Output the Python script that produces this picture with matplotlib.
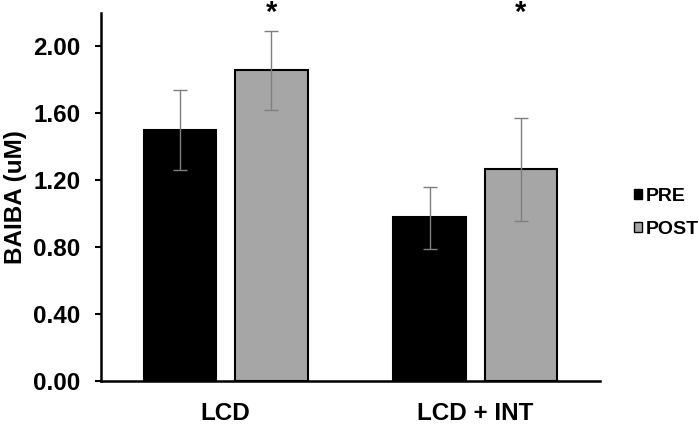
import numpy as np
import matplotlib.pyplot as plt

# BAIBA antes y despues, por grupo
grupos = ["LCD", "LCD + INT"]
pre = [1.50, 0.98]
post = [1.86, 1.265]
pre_err_hi = [0.24, 0.18]
pre_err_lo = [0.24, 0.19]
post_err_hi = [0.235, 0.31]
post_err_lo = [0.24, 0.31]
significativo = [True, True]

plt.rcParams['font.family'] = ['Liberation Sans', 'DejaVu Sans']
plt.rcParams['font.weight'] = 'bold'

fig = plt.figure(figsize=(6.99, 4.24), dpi=100)
ax = fig.add_axes([101 / 699, 1 - 381 / 424, 499 / 699, 368 / 424])

x = np.arange(len(grupos))
ancho = 0.29
desp = 0.183

ax.bar(x - desp, pre, ancho, color="black", edgecolor="black", linewidth=1.5,
       label="PRE", zorder=2)
ax.bar(x + desp, post, ancho, color="#a6a6a6", edgecolor="black", linewidth=1.5,
       label="POST", zorder=2)

ax.errorbar(x - desp, pre, yerr=[pre_err_lo, pre_err_hi], fmt="none",
            ecolor="#7f7f7f", elinewidth=1, capsize=5, capthick=1, zorder=3)
ax.errorbar(x + desp, post, yerr=[post_err_lo, post_err_hi], fmt="none",
            ecolor="#7f7f7f", elinewidth=1, capsize=5, capthick=1, zorder=3)

for i, s in enumerate(significativo):
    if s:
        ax.text(x[i] + desp, 2.2, "*", ha="center", va="center", fontsize=21,
                fontweight="bold", clip_on=False)

ax.set_xlim(-0.5, 1.5)
ax.set_ylim(0, 2.2)
ax.set_yticks(np.arange(0, 2.01, 0.4))
ax.set_yticklabels([f"{v:.2f}" for v in np.arange(0, 2.01, 0.4)])
ax.set_xticks(x)
ax.set_xticklabels(grupos)
ax.tick_params(axis="y", labelsize=17.5, width=1.5, length=4, direction="out", pad=11)
ax.tick_params(axis="x", labelsize=17.5, length=0, pad=15)
ax.set_ylabel("BAIBA (uM)", fontsize=17.5, fontweight="bold", labelpad=4)

for lado in ["top", "right"]:
    ax.spines[lado].set_visible(False)
ax.spines["left"].set_linewidth(1.8)
ax.spines["bottom"].set_linewidth(1.8)

leg = fig.legend(loc="center left", bbox_to_anchor=(634 / 699, 1 - 213 / 424),
                 frameon=False, fontsize=14, handlelength=0.42, handleheight=0.42,
                 handletextpad=0.2, labelspacing=0.85, borderpad=0,
                 borderaxespad=0)
for h in leg.legend_handles:
    h.set_linewidth(1)

fig.savefig("out.png", dpi=100)
